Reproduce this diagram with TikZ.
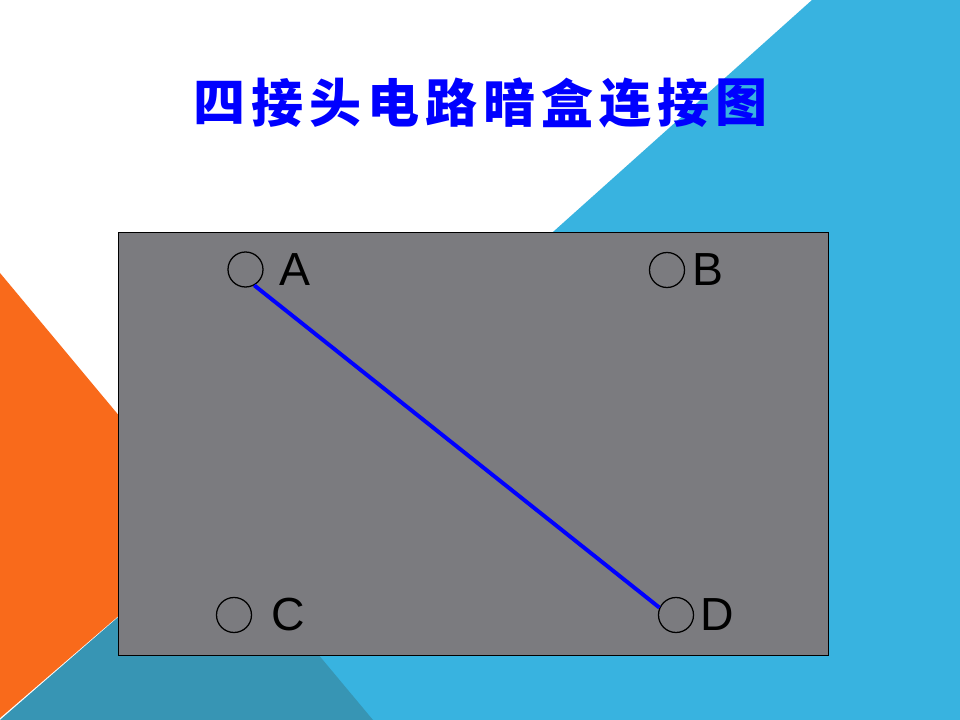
\documentclass[tikz,border=0pt]{standalone}
\usepackage{fontspec}
\setmainfont{Liberation Sans}
\newfontfamily\cjk{Noto Sans CJK SC}
\usepackage{tikz}
\definecolor{skyblue}{HTML}{38B3E0}
\definecolor{tealblue}{HTML}{3795B4}
\definecolor{slideorange}{HTML}{F96A1B}
\definecolor{boxgray}{HTML}{7B7B7F}

\begin{document}
\begin{tikzpicture}[x=0.025cm, y=-0.025cm,
  pin/.style={circle, draw, line width=0.9pt, minimum size=0.875cm, inner sep=0pt},
  letter/.style={font=\fontsize{33}{33}\selectfont, inner sep=0pt}]
\useasboundingbox (0,0) rectangle (960,720);
\fill[white] (0,0) rectangle (960,720);
\fill[skyblue] (812,0) -- (960,0) -- (960,720) -- (8,720) -- cycle;
\fill[slideorange] (0,273) -- (216,532) -- (0,718) -- cycle;
\fill[tealblue] (216,532) -- (373,720) -- (0,720) -- cycle;
\foreach \c [count=\i] in {四,接,头,电,路,暗,盒,连,接,图}
  \node[text=blue, font=\cjk\bfseries\fontsize{37}{37}\selectfont] (t\i) at ({220+58*(\i-1)}, 103) {\c};
\draw[fill=boxgray, thin] (118,232) rectangle (828,655);
\node[pin] (A) at (245.5,269.5) {};
\node[pin] (B) at (667,270) {};
\node[pin] (C) at (234,615) {};
\node[pin] (D) at (676,615) {};
\node[letter] (lA) at (295,270) {A};
\node[letter] (lB) at (708,270) {B};
\node[letter] (lC) at (288.5,615) {C};
\node[letter] (lD) at (717,615) {D};
\draw[blue, line width=2.8pt] (A.-61) -- (D.156);
\end{tikzpicture}
\end{document}
